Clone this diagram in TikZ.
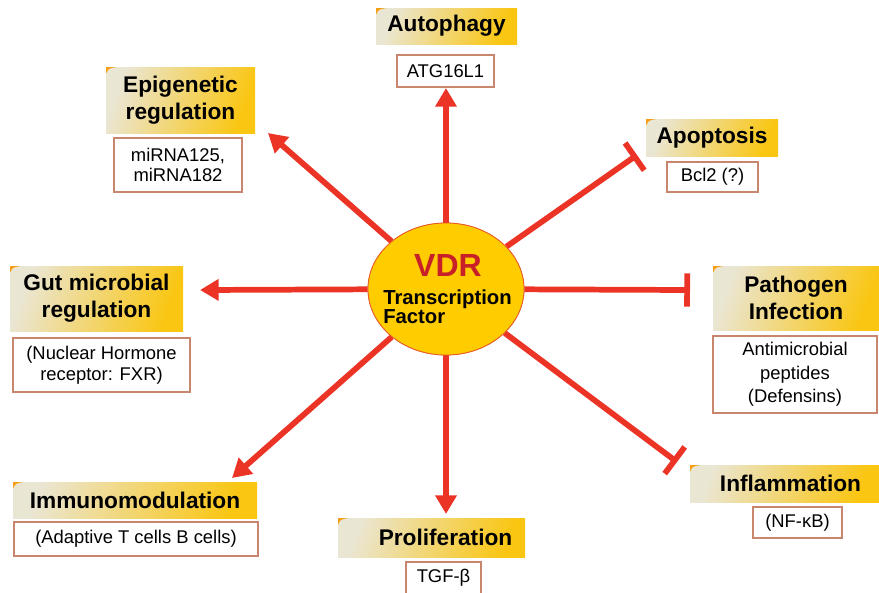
\documentclass[tikz,border=0pt]{standalone}
\usepackage{fontspec}
\setmainfont{Liberation Sans}
\usetikzlibrary{arrows.meta,shapes.geometric}
\definecolor{arr}{RGB}{236,52,38}
\definecolor{vdrred}{RGB}{200,32,40}
\definecolor{ellfill}{RGB}{255,204,0}
\definecolor{ellline}{RGB}{230,90,40}
\definecolor{boxline}{RGB}{200,134,110}
\definecolor{gradL}{RGB}{234,230,212}
\definecolor{gradM}{RGB}{240,214,90}
\definecolor{gradR}{RGB}{250,198,18}
\definecolor{wedge}{RGB}{245,160,20}
\tikzset{
  x=0.75pt, y=-0.75pt,
  wh/.style 2 args={minimum width=#1*0.75pt, minimum height=#2*0.75pt},
  lab/.style={inner sep=0pt, left color=gradL, middle color=gradM, right color=gradR, shading angle=70,
    align=center, font=\bfseries\fontsize{17}{20}\selectfont,
    path picture={\fill[wedge] (path picture bounding box.north west) -- ([xshift=8pt]path picture bounding box.north west) .. controls ([xshift=2pt,yshift=-1pt]path picture bounding box.north west) .. ([yshift=-5pt]path picture bounding box.north west) -- cycle;}},
  sub/.style={inner sep=0pt, draw=boxline, line width=0.8pt, fill=white, align=center,
    font=\fontsize{13.8}{15.5}\selectfont},
  act/.style={draw=arr, line width=4.3pt, -{Triangle[length=14pt,width=15.5pt]}},
  inh/.style={draw=arr, line width=4.3pt, -{Bar[width=25pt]}},
  vdrshape/.style={ellipse, draw=ellline, line width=0.6pt, fill=ellfill, minimum width=156*0.75pt, minimum height=132*0.75pt, inner sep=0pt},
}
\begin{document}
\begin{tikzpicture}
\useasboundingbox (0,0) rectangle (879,593);

% connector end points
\coordinate (tAuto) at (446,88);
\coordinate (tEpi) at (268,133);
\coordinate (tApo) at (637,155);
\coordinate (tGut) at (200,290);
\coordinate (tPath) at (690,290);
\coordinate (tImm) at (232,478);
\coordinate (tPro) at (446,514);
\coordinate (tInf) at (677,462);

\node[vdrshape] (vdr) at (446,289) {};

\draw[act] (vdr) -- (tAuto);
\draw[act] (vdr) -- (tEpi);
\draw[inh] (vdr) -- (tApo);
\draw[act] (vdr) -- (tGut);
\draw[inh] (vdr) -- (tPath);
\draw[act] (vdr) -- (tImm);
\draw[act] (vdr) -- (tPro);
\draw[inh] (vdr) -- (tInf);

\node[vdrshape] (vdrtop) at (446,289) {};
\node[text=vdrred, font=\bfseries\fontsize{24}{26}\selectfont, inner sep=0pt] (vdrtxt) at (448,265) {VDR};
\node[anchor=west, align=left, font=\bfseries\fontsize{15.2}{14.5}\selectfont, inner sep=0pt] (tftxt) at (383,307) {Transcription\\Factor};

% labels
\node[lab, wh={141}{36}] (auto) at (446.5,26) {Autophagy};
\node[sub, wh={97}{32}] (autos) at (445.5,71) {ATG16L1};

\node[lab, wh={149}{66}] (epi) at (180.5,100) {Epigenetic\\regulation};
\node[sub, wh={128}{54}] (epis) at (178,165) {miRNA125,\\ miRNA182};

\node[lab, wh={132}{37}] (apo) at (712,137.5) {Apoptosis};
\node[sub, wh={91}{30}] (apos) at (712.5,177) {Bcl2 (?)};

\node[lab, wh={173}{65}] (gut) at (96.5,298.5) {Gut microbial\\regulation};
\node[sub, wh={177}{54}] (guts) at (101.5,365) {(Nuclear Hormone\\ receptor: FXR)};

\node[lab, wh={166}{64}] (path) at (796,298) {Pathogen\\Infection};
\node[sub, wh={164}{77}, font=\fontsize{13.8}{17.5}\selectfont] (paths) at (795,374.5) {Antimicrobial\\peptides\\(Defensins)};

\node[lab, wh={189}{37}] (inf) at (784.5,483.5) {\hspace*{9pt}Inflammation};
\node[sub, wh={89}{31}] (infs) at (797.5,522.5) {(NF-κB)};

\node[lab, wh={244}{36}] (imm) at (135,500) {Immunomodulation};
\node[sub, wh={244}{34}] (imms) at (136,539) {(Adaptive T cells B cells)};

\node[lab, wh={187}{39}] (pro) at (431.5,537.5) {\hspace*{21pt}Proliferation};
\node[sub, wh={75}{32}] (pros) at (443.5,578) {TGF-β};
\end{tikzpicture}
\end{document}
